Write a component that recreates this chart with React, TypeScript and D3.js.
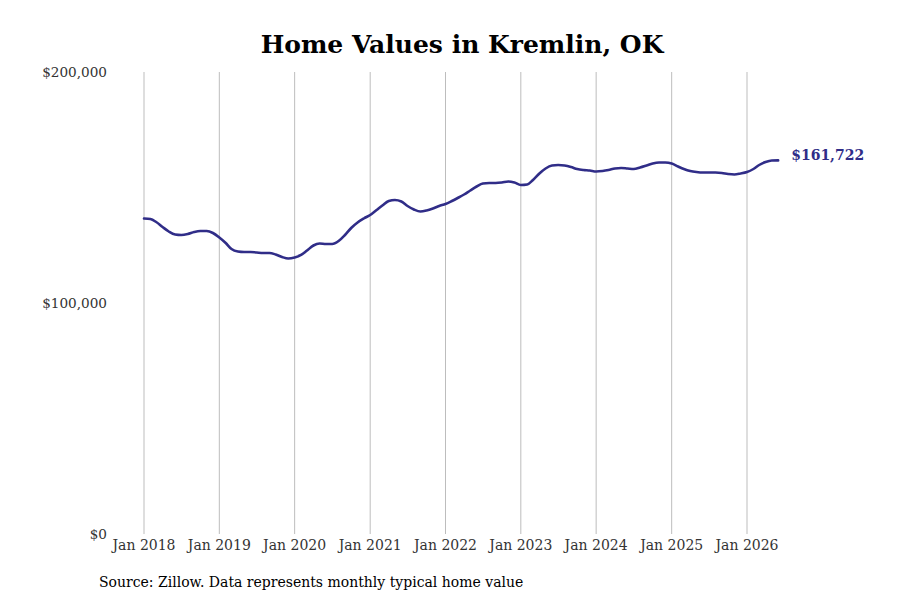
import React, { useEffect, useRef } from 'react';
import * as d3 from 'd3';

// Monthly typical home value, Jan 2018 - Jun 2026
const startMonth = new Date(2018, 0, 1);
const homeValues = [
  136600, 136360, 135070, 132900, 130950, 129650, 129440, 129870, 130740, 131170, 131170, 130300,
  128360, 125980, 123380, 122290, 122080, 122080, 121860, 121640, 121640, 121000, 119910, 119260,
  119700, 120780, 122730, 124890, 125760, 125540, 125540, 126840, 129440, 132470, 134850, 136580,
  138100, 140260, 142210, 144160, 144590, 143940, 141990, 140480, 139610, 140040, 140910, 141990,
  142860, 144160, 145450, 146970, 148700, 150430, 151730, 151950, 151950, 152160, 152600, 152160,
  151080, 151300, 153250, 156060, 158220, 159520, 159740, 159520, 158870, 158010, 157580, 157360,
  156930, 157140, 157580, 158220, 158440, 158220, 158010, 158660, 159520, 160390, 160820, 160820,
  160390, 159090, 158010, 157140, 156710, 156490, 156490, 156490, 156280, 155840, 155630, 156060,
  156710, 158010, 159740, 161040, 161690, 161722,
];
const yTicks = [0, 100000, 200000];
const xTickYears = [2018, 2019, 2020, 2021, 2022, 2023, 2024, 2025, 2026];

const title = 'Home Values in Kremlin, OK';
const source = 'Source: Zillow. Data represents monthly typical home value';

const W = 900;
const H = 600;
const FONT = '"DejaVu Serif", serif';
const LINE = '#302d88';

const App: React.FC = () => {
  const svgRef = useRef<SVGSVGElement>(null);

  useEffect(() => {
    if (!svgRef.current) return;
    const svg = d3.select(svgRef.current);
    svg.selectAll('*').remove();

    const data = homeValues.map((v, i) => ({ date: d3.timeMonth.offset(startMonth, i), value: v }));

    const x = d3.scaleTime()
      .domain([new Date(2018, 0, 1), new Date(2026, 0, 1)])
      .range([144, 747]);
    const y = d3.scaleLinear().domain([0, 200000]).range([534, 72]);

    // vertical grid
    svg.append('g')
      .selectAll('line')
      .data(xTickYears)
      .join('line')
      .attr('x1', d => x(new Date(d, 0, 1)))
      .attr('x2', d => x(new Date(d, 0, 1)))
      .attr('y1', 72)
      .attr('y2', 534)
      .attr('stroke', '#bdbdbd')
      .attr('stroke-width', 1);

    // x labels
    svg.append('g')
      .selectAll('text')
      .data(xTickYears)
      .join('text')
      .attr('x', d => x(new Date(d, 0, 1)))
      .attr('y', 550)
      .attr('text-anchor', 'middle')
      .attr('font-family', FONT)
      .attr('font-size', 14)
      .attr('fill', '#333')
      .text(d => `Jan ${d}`);

    // y labels
    svg.append('g')
      .selectAll('text')
      .data(yTicks)
      .join('text')
      .attr('x', 107)
      .attr('y', d => y(d))
      .attr('dy', '0.35em')
      .attr('text-anchor', 'end')
      .attr('font-family', FONT)
      .attr('font-size', 13.6)
      .attr('fill', '#333')
      .text(d => d3.format('$,')(d));

    const line = d3.line<{ date: Date; value: number }>()
      .x(d => x(d.date))
      .y(d => y(d.value))
      .curve(d3.curveMonotoneX);

    svg.append('path')
      .datum(data)
      .attr('d', line)
      .attr('fill', 'none')
      .attr('stroke', LINE)
      .attr('stroke-width', 2.6)
      .attr('stroke-linejoin', 'round')
      .attr('stroke-linecap', 'round');

    const last = data[data.length - 1];
    svg.append('text')
      .attr('x', x(last.date) + 13)
      .attr('y', y(last.value) - 5)
      .attr('dy', '0.35em')
      .attr('font-family', FONT)
      .attr('font-size', 14)
      .attr('font-weight', 'bold')
      .attr('fill', LINE)
      .text(d3.format('$,')(last.value));

    svg.append('text')
      .attr('x', 462)
      .attr('y', 53)
      .attr('text-anchor', 'middle')
      .attr('font-family', FONT)
      .attr('font-size', 25)
      .attr('font-weight', 'bold')
      .attr('fill', '#000')
      .text(title);

    svg.append('text')
      .attr('x', 99)
      .attr('y', 587)
      .attr('font-family', FONT)
      .attr('font-size', 14)
      .attr('fill', '#000')
      .text(source);
  }, []);

  return (
    <svg ref={svgRef} width={W} height={H} style={{ position: 'absolute', left: 0, top: 0, background: '#fff' }} />
  );
};

export default App;
